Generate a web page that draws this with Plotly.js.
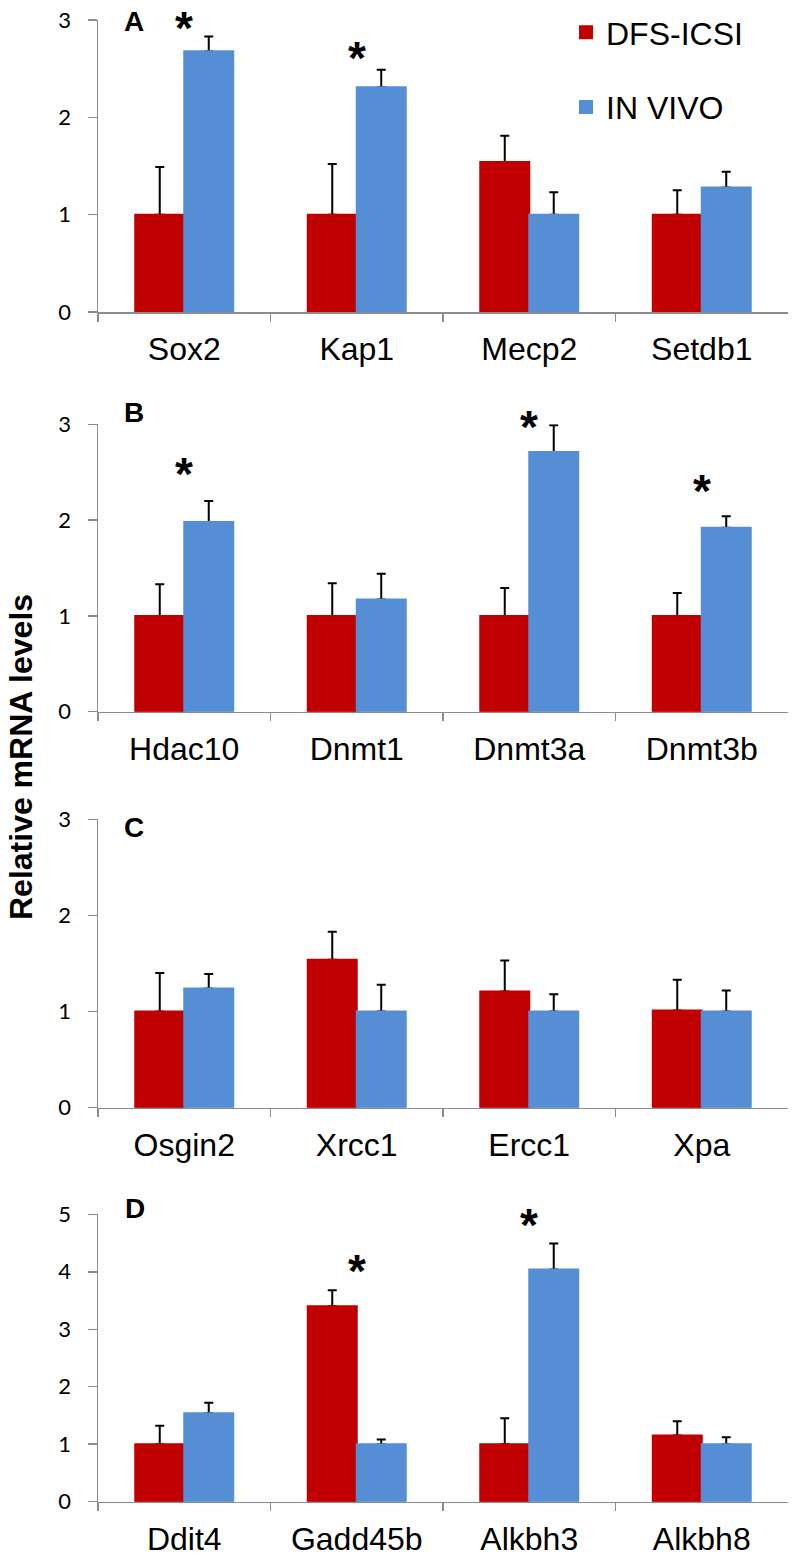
<!DOCTYPE html>
<html><head><meta charset="utf-8">
<script src="https://cdn.plot.ly/plotly-3.0.1.min.js"></script>
<style>html,body{margin:0;padding:0;background:#fff}</style>
</head><body><div id="chart" style="width:798px;height:1561px"></div>
<script>
// ---------- DATA ----------
const seriesNames = ["DFS-ICSI", "IN VIVO"];
const seriesColors = ["#C00000", "#558ED5"];

const genesA = ["Sox2", "Kap1", "Mecp2", "Setdb1"];
const dfsA = [1.00, 1.00, 1.54, 1.00];
const dfsErrA = [0.49, 0.52, 0.27, 0.25];
const vivoA = [2.68, 2.31, 1.00, 1.28];
const vivoErrA = [0.15, 0.18, 0.23, 0.16];
const starGenesA = ["Sox2", "Kap1"];
const starYA = [3.00, 2.69];

const genesB = ["Hdac10", "Dnmt1", "Dnmt3a", "Dnmt3b"];
const dfsB = [1.00, 1.00, 1.00, 1.00];
const dfsErrB = [0.33, 0.34, 0.29, 0.24];
const vivoB = [1.98, 1.17, 2.71, 1.92];
const vivoErrB = [0.22, 0.27, 0.28, 0.12];
const starGenesB = ["Hdac10", "Dnmt3a", "Dnmt3b"];
const starYB = [2.56, 3.06, 2.39];

const genesC = ["Osgin2", "Xrcc1", "Ercc1", "Xpa"];
const dfsC = [1.00, 1.54, 1.21, 1.01];
const dfsErrC = [0.40, 0.29, 0.32, 0.32];
const vivoC = [1.24, 1.00, 1.00, 1.00];
const vivoErrC = [0.15, 0.28, 0.18, 0.22];
const starGenesC = [];
const starYC = [];

const genesD = ["Ddit4", "Gadd45b", "Alkbh3", "Alkbh8"];
const dfsD = [1.00, 3.40, 1.00, 1.15];
const dfsErrD = [0.32, 0.28, 0.45, 0.25];
const vivoD = [1.54, 1.00, 4.04, 1.00];
const vivoErrD = [0.18, 0.08, 0.45, 0.12];
const starGenesD = ["Gadd45b", "Alkbh3"];
const starYD = [4.15, 4.96];

const panelLetters = ["A", "B", "C", "D"];
const yMaxes = [3, 3, 3, 5];
const yTitle = "Relative mRNA levels";

// ---------- LAYOUT HELPERS ----------
const W = 798, H = 1561;
const fx = p => p / W;
const fy = p => 1 - p / H;
const xDom = [fx(98), fx(788)];
const panelPx = [[20, 312], [424.3, 711.7], [819.3, 1107.7], [1214.3, 1501.7]];
const letterPx = [[134, 21.7], [134, 412.5], [134, 827.5], [135, 1208]];
const starSize = 46;

const panels = [
  {genes: genesA, dfs: dfsA, dfsErr: dfsErrA, vivo: vivoA, vivoErr: vivoErrA, sg: starGenesA, sy: starYA},
  {genes: genesB, dfs: dfsB, dfsErr: dfsErrB, vivo: vivoB, vivoErr: vivoErrB, sg: starGenesB, sy: starYB},
  {genes: genesC, dfs: dfsC, dfsErr: dfsErrC, vivo: vivoC, vivoErr: vivoErrC, sg: starGenesC, sy: starYC},
  {genes: genesD, dfs: dfsD, dfsErr: dfsErrD, vivo: vivoD, vivoErr: vivoErrD, sg: starGenesD, sy: starYD}
];

const axisGray = "#8c8c8c";
const traces = [];
const layout = {
  width: W, height: H,
  margin: {l: 0, r: 0, t: 0, b: 0, pad: 0},
  paper_bgcolor: "#fff", plot_bgcolor: "#fff",
  barmode: "group", bargap: 0.432, bargroupgap: 0,
  showlegend: true,
  legend: {
    x: fx(566), xanchor: "left", y: fy(5), yanchor: "top",
    font: {family: "Liberation Sans, Arial, sans-serif", size: 32, color: "#000"},
    traceorder: "grouped", tracegroupgap: 30, bgcolor: "rgba(0,0,0,0)"
  },
  annotations: [],
  font: {family: "Liberation Sans, Arial, sans-serif", color: "#000"}
};

panels.forEach((p, i) => {
  const n = i + 1;
  const xa = n === 1 ? "x" : "x" + n;
  const ya = n === 1 ? "y" : "y" + n;
  const zeros = p.genes.map(() => 0);
  const series = [[p.dfs, p.dfsErr], [p.vivo, p.vivoErr]];
  // error bars (carried by transparent bars in the same slot)
  series.forEach((s, k) => {
    traces.push({
      type: "bar", name: seriesNames[k] + " SEM", x: p.genes, y: s[0],
      xaxis: xa, yaxis: ya, offsetgroup: "g" + k,
      legendgroup: seriesNames[k], showlegend: false,
      marker: {color: "rgba(0,0,0,0)", line: {width: 0}},
      error_y: {type: "data", symmetric: false, array: s[1], arrayminus: zeros,
                color: "#000", thickness: 2, width: 4.5},
      hoverinfo: "skip"
    });
  });
  // visible bars
  series.forEach((s, k) => {
    traces.push({
      type: "bar", name: seriesNames[k], x: p.genes, y: s[0],
      xaxis: xa, yaxis: ya, offsetgroup: "g" + k,
      legendgroup: seriesNames[k], showlegend: n === 1,
      marker: {color: seriesColors[k], line: {width: 2, color: seriesColors[k]}},
      hoverinfo: "x+y"
    });
  });
  // significance stars
  p.sg.forEach((g, j) => {
    layout.annotations.push({
      xref: xa, yref: ya + " domain", x: p.genes.indexOf(g), y: p.sy[j] / yMaxes[i],
      xanchor: "center", yanchor: "middle", showarrow: false, yshift: -8,
      text: "<b>*</b>",
      font: {family: "Liberation Sans, Arial, sans-serif", size: starSize, color: "#000"}
    });
  });
  const yDom = [fy(panelPx[i][1]), fy(panelPx[i][0])];
  layout[n === 1 ? "xaxis" : "xaxis" + n] = {
    domain: xDom, anchor: ya, type: "category",
    categoryorder: "array", categoryarray: p.genes,
    showline: true, linecolor: axisGray, linewidth: 1.5,
    ticks: "outside", tickson: "boundaries", ticklen: 8, tickcolor: axisGray, tickwidth: 1.5,
    tickfont: {family: "Liberation Sans, Arial, sans-serif", size: 32, color: "#000"},
    ticklabelstandoff: 8,
    showgrid: false, zeroline: false, fixedrange: true
  };
  layout[n === 1 ? "yaxis" : "yaxis" + n] = {
    domain: yDom, anchor: xa, range: [0, yMaxes[i]], dtick: 1, tick0: 0,
    showline: true, linecolor: axisGray, linewidth: 1.5,
    ticks: "outside", ticklen: 9, tickcolor: axisGray, tickwidth: 1.5,
    tickfont: {family: "Lato, Carlito, sans-serif", size: 22, color: "#000"},
    ticklabelstandoff: 12,
    showgrid: false, zeroline: false, fixedrange: true
  };
  layout.annotations.push({
    xref: "paper", yref: "paper", x: fx(letterPx[i][0]), y: fy(letterPx[i][1]),
    xanchor: "center", yanchor: "middle", showarrow: false,
    text: "<b>" + panelLetters[i] + "</b>",
    font: {family: "Liberation Sans, Arial, sans-serif", size: 28, color: "#000"}
  });
});

layout.annotations.push({
  xref: "paper", yref: "paper", x: fx(21), y: fy(757),
  xanchor: "center", yanchor: "middle", showarrow: false, textangle: -90,
  text: "<b>" + yTitle + "</b>",
  font: {family: "Liberation Sans, Arial, sans-serif", size: 32, color: "#000"}
});

Plotly.newPlot("chart", traces, layout, {staticPlot: true, displayModeBar: false});
</script></body></html>
